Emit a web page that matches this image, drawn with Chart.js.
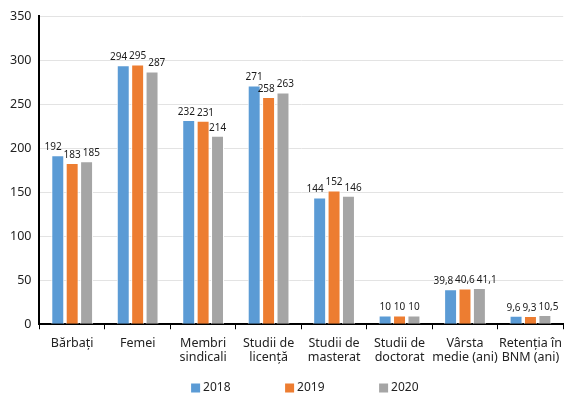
<!DOCTYPE html>
<html lang="ro">
<head>
<meta charset="UTF-8">
<title>Indicatori personal 2018-2020</title>
<script src="https://cdn.jsdelivr.net/npm/chart.js"></script>
<style>
    body { margin: 0; background: #fff; }
    #wrap { width: 569px; height: 394px; position: relative; }
</style>
</head>
<body>
<div id="wrap"><canvas id="chart"></canvas></div>
<script>
    const categories = [
        ['Bărbați'], ['Femei'], ['Membri', 'sindicali'], ['Studii de', 'licență'],
        ['Studii de', 'masterat'], ['Studii de', 'doctorat'], ['Vârsta', 'medie (ani)'], ['Retenția în', 'BNM (ani)']
    ];
    const years = ['2018', '2019', '2020'];
    const values2018 = [192, 294, 232, 271, 144, 10, 39.8, 9.6];
    const values2019 = [183, 295, 231, 258, 152, 10, 40.6, 9.3];
    const values2020 = [185, 287, 214, 263, 146, 10, 41.1, 10.5];
    const yTicks = [0, 50, 100, 150, 200, 250, 300, 350];
    const colors = ['#5B9BD5', '#ED7D31', '#A5A5A5'];

    const FONT = "'Noto Sans', 'Open Sans', sans-serif";

    // value labels above each bar, nudged apart when neighbours collide
    const barLabels = {
        id: 'barLabels',
        afterDatasetsDraw(chart) {
            const ctx = chart.ctx;
            ctx.save();
            ctx.font = '10px ' + FONT;
            ctx.fillStyle = '#1a1a1a';
            ctx.textAlign = 'center';
            ctx.textBaseline = 'bottom';
            const nCat = chart.data.labels.length;
            for (let j = 0; j < nCat; j++) {
                const items = chart.data.datasets.map((ds, i) => {
                    const bar = chart.getDatasetMeta(i).data[j];
                    const txt = String(ds.data[j]).replace('.', ',');
                    return { txt, x: bar.x, y: bar.y - 3, w: ctx.measureText(txt).width };
                });
                for (let pass = 0; pass < 3; pass++) {
                    for (let k = 0; k < items.length - 1; k++) {
                        const a = items[k], b = items[k + 1];
                        if (Math.abs(a.y - b.y) > 10) continue;
                        const overlap = (a.x + a.w / 2 + 2) - (b.x - b.w / 2);
                        if (overlap > 0) { a.x -= overlap / 2; b.x += overlap / 2; }
                    }
                }
                items.forEach(it => ctx.fillText(it.txt, it.x, it.y));
            }
            ctx.restore();
        }
    };

    // legend drawn by hand so the wide horizontal spacing doesn't eat vertical space
    const bottomLegend = {
        id: 'bottomLegend',
        afterDraw(chart) {
            const ctx = chart.ctx;
            const area = chart.chartArea;
            const step = 94, box = 9;
            const n = chart.data.datasets.length;
            ctx.save();
            ctx.font = '12px ' + FONT;
            const lastW = box + 4 + ctx.measureText(chart.data.datasets[n - 1].label).width;
            let x = (area.left + area.right) / 2 - ((n - 1) * step + lastW) / 2 + 4;
            const y = chart.height - 6;
            ctx.textBaseline = 'middle';
            ctx.textAlign = 'left';
            chart.data.datasets.forEach(ds => {
                ctx.fillStyle = ds.backgroundColor;
                ctx.fillRect(x, y - box / 2, box, box);
                ctx.fillStyle = '#222';
                ctx.fillText(ds.label, x + box + 3, y);
                x += step;
            });
            ctx.restore();
        }
    };

    new Chart(document.getElementById('chart'), {
        type: 'bar',
        data: {
            labels: categories,
            datasets: [
                { label: years[0], data: values2018, backgroundColor: colors[0] },
                { label: years[1], data: values2019, backgroundColor: colors[1] },
                { label: years[2], data: values2020, backgroundColor: colors[2] }
            ].map(d => Object.assign(d, {
                borderColor: '#fff',
                borderWidth: 1,
                barPercentage: 0.9,
                categoryPercentage: 0.66
            }))
        },
        options: {
            responsive: true,
            maintainAspectRatio: false,
            animation: false,
            layout: { padding: { top: 16, right: 0, left: 2, bottom: 22 } },
            plugins: {
                tooltip: { enabled: false },
                legend: { display: false }
            },
            scales: {
                x: {
                    grid: {
                        display: true,
                        drawOnChartArea: false,
                        drawTicks: true,
                        tickLength: 5,
                        color: '#000',
                        offset: true
                    },
                    border: { color: '#000', width: 2 },
                    ticks: {
                        color: '#222',
                        font: { family: FONT, size: 12.5, lineHeight: 1.15 },
                        maxRotation: 0,
                        autoSkip: false,
                        padding: 7
                    }
                },
                y: {
                    min: 0,
                    max: 350,
                    afterBuildTicks(axis) { axis.ticks = yTicks.map(v => ({ value: v })); },
                    grid: { color: '#e3e3e3', drawTicks: false },
                    border: { color: '#000', width: 2 },
                    ticks: {
                        color: '#222',
                        font: { family: FONT, size: 12.5 },
                        padding: 8
                    }
                }
            }
        },
        plugins: [barLabels, bottomLegend]
    });
</script>
</body>
</html>
